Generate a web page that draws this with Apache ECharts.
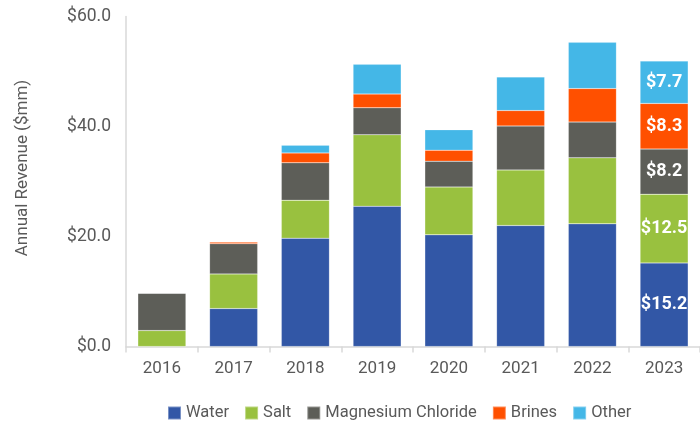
<!DOCTYPE html>
<html>
<head>
<meta charset="utf-8">
<script src="https://cdn.jsdelivr.net/npm/echarts@6/dist/echarts.min.js"></script>
<style>html,body{margin:0;padding:0;background:#fff;}#c{width:700px;height:424px;}</style>
</head>
<body>
<div id="c"></div>
<script>
const years = ['2016','2017','2018','2019','2020','2021','2022','2023'];
const water = [0, 6.9, 19.7, 25.5, 20.3, 22.0, 22.3, 15.2];
const salt = [2.9, 6.3, 6.9, 13.0, 8.7, 10.1, 12.0, 12.5];
const magnesium = [6.8, 5.5, 6.8, 4.9, 4.7, 8.0, 6.5, 8.2];
const brines = [0, 0.3, 1.8, 2.5, 2.0, 2.8, 6.1, 8.3];
const other = [0, 0, 1.4, 5.4, 3.7, 6.1, 8.4, 7.7];
const yTicks = [0, 20, 40, 60];

const seriesDefs = [
  ['Water', water, '#3257A6'],
  ['Salt', salt, '#99C13F'],
  ['Magnesium Chloride', magnesium, '#5D5E58'],
  ['Brines', brines, '#FF5000'],
  ['Other', other, '#44B7E7']
];
const lastIdx = years.length - 1;
const chart = echarts.init(document.getElementById('c'));
chart.setOption({
  animation: false,
  textStyle: {fontFamily: 'Roboto'},
  grid: {left: 126, top: 16.5, width: 579, bottom: 77.5},
  legend: {
    bottom: 2.5, left: 167, padding: 0, itemWidth: 13, itemHeight: 13, itemGap: 15,
    icon: 'rect',
    textStyle: {fontSize: 16.5, color: '#595959', fontFamily: 'Roboto'},
    data: seriesDefs.map(s => s[0])
  },
  xAxis: {
    type: 'category', data: years,
    axisLine: {lineStyle: {color: '#D9D9D9', width: 1.5}},
    axisTick: {show: true, length: 6, lineStyle: {color: '#D9D9D9', width: 1.5}},
    axisLabel: {fontSize: 17, color: '#595959', margin: 14}
  },
  yAxis: {
    type: 'value', min: yTicks[0], max: yTicks[yTicks.length - 1], interval: 20,
    name: 'Annual Revenue ($mm)', nameLocation: 'middle', nameGap: 95,
    nameTextStyle: {fontSize: 17, color: '#595959', padding: [0, 0, 0, 27]},
    axisLine: {show: true, lineStyle: {color: '#D9D9D9', width: 1.5}},
    splitLine: {show: false},
    axisLabel: {fontSize: 17.5, color: '#595959', margin: 15, formatter: v => '$' + v.toFixed(1)}
  },
  series: seriesDefs.map(([name, vals, color]) => ({
    name, type: 'bar', stack: 'total', barWidth: '67%',
    itemStyle: {color, borderColor: 'rgba(255,255,255,0.35)', borderWidth: 0.5},
    data: vals.map((v, i) => ({
      value: v,
      label: {
        show: i === lastIdx, position: 'inside', color: '#fff', fontWeight: 'bold', fontSize: 18,
        fontFamily: 'Roboto', formatter: p => '$' + p.value.toFixed(1)
      }
    }))
  }))
});
</script>
</body>
</html>
